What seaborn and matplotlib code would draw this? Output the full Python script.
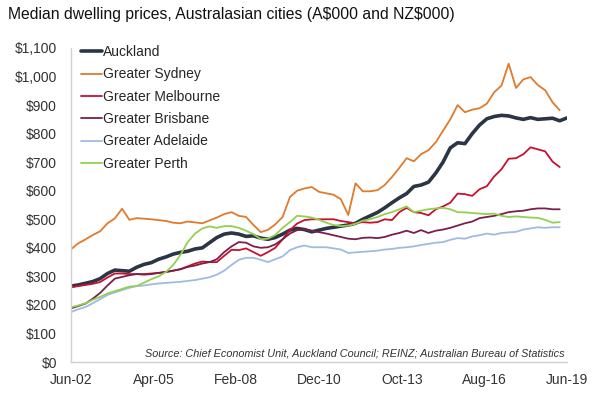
import numpy as np
import pandas as pd
import seaborn as sns
import matplotlib.pyplot as plt
import matplotlib.dates as mdates
from matplotlib.ticker import FuncFormatter

# quarterly, Jun-02 .. Jun-19 (Australian series end Mar-19)
quarters = pd.date_range('2002-06-30', periods=69, freq='QE')

auckland = [266, 270, 276, 282, 292, 310, 322, 320, 318, 332, 342, 348, 360, 368, 378, 384,
            388, 396, 400, 418, 436, 448, 452, 448, 440, 442, 434, 430, 436, 448, 462, 468,
            464, 456, 462, 468, 472, 476, 480, 486, 500, 512, 524, 540, 558, 575, 590, 615,
            620, 630, 662, 700, 750, 768, 765, 800, 830, 852, 860, 864, 862, 855, 850, 856,
            850, 852, 854, 845, 855]
sydney = [395, 416, 430, 445, 458, 486, 503, 537, 498, 504, 502, 500, 497, 494, 488, 486,
          492, 489, 486, 496, 506, 518, 525, 512, 508, 480, 455, 463, 482, 508, 578, 600,
          608, 613, 596, 591, 586, 570, 515, 626, 598, 598, 602, 620, 648, 680, 714, 703,
          728, 742, 770, 810, 850, 900, 875, 884, 889, 905, 945, 968, 1045, 960, 990, 998,
          970, 952, 910, 882, np.nan]
melbourne = [262, 266, 270, 274, 280, 296, 310, 310, 308, 308, 308, 310, 312, 316, 320, 325,
             335, 345, 352, 350, 350, 372, 393, 392, 398, 385, 372, 385, 400, 430, 462, 485,
             497, 500, 500, 500, 500, 494, 490, 486, 490, 488, 490, 500, 497, 525, 540, 525,
             522, 514, 535, 545, 558, 590, 588, 582, 605, 616, 650, 675, 712, 714, 728, 752,
             745, 738, 702, 683, np.nan]
brisbane = [188, 196, 205, 222, 242, 268, 292, 298, 304, 308, 306, 308, 312, 315, 320, 325,
            333, 338, 345, 350, 360, 385, 405, 420, 418, 405, 400, 402, 412, 430, 450, 462,
            465, 460, 455, 450, 444, 438, 432, 430, 435, 436, 434, 438, 446, 452, 460, 452,
            462, 452, 460, 464, 470, 478, 486, 492, 504, 508, 512, 518, 525, 528, 530, 535,
            538, 538, 535, 535, np.nan]
adelaide = [175, 185, 193, 206, 220, 235, 244, 252, 260, 266, 268, 272, 275, 277, 279, 281,
            284, 287, 292, 297, 306, 320, 340, 358, 365, 365, 358, 350, 360, 370, 392, 402,
            408, 402, 402, 402, 398, 394, 382, 384, 386, 388, 390, 394, 396, 400, 402, 405,
            410, 414, 418, 420, 428, 434, 432, 440, 444, 450, 446, 452, 454, 456, 464, 468,
            472, 470, 472, 472, np.nan]
perth = [192, 198, 206, 218, 228, 240, 248, 256, 264, 266, 278, 290, 300, 315, 340, 375,
         420, 450, 468, 475, 470, 476, 476, 470, 460, 448, 430, 432, 445, 470, 490, 512,
         510, 506, 498, 488, 480, 476, 478, 484, 495, 500, 508, 518, 525, 535, 545, 525,
         530, 535, 538, 540, 535, 525, 524, 522, 520, 518, 520, 512, 508, 510, 508, 506,
         505, 498, 488, 490, np.nan]

series = {
    'Auckland': auckland,
    'Greater Sydney': sydney,
    'Greater Melbourne': melbourne,
    'Greater Brisbane': brisbane,
    'Greater Adelaide': adelaide,
    'Greater Perth': perth,
}
colors = {
    'Auckland': '#2b3545',
    'Greater Sydney': '#e07a2c',
    'Greater Melbourne': '#c8102e',
    'Greater Brisbane': '#7a1f4a',
    'Greater Adelaide': '#9fbbe3',
    'Greater Perth': '#92d050',
}
tick_dates = pd.date_range('2002-06-30', periods=7, freq='34ME')

sns.set_style("white")
plt.rcParams['font.family'] = ['Liberation Sans', 'DejaVu Sans']

fig = plt.figure(figsize=(5.95, 3.94), dpi=100)
ax = fig.add_axes([0.1193, 0.0812, 0.8336, 0.797])

for name, vals in series.items():
    lw = 2.6 if name == 'Auckland' else 1.3
    sns.lineplot(x=quarters, y=vals, ax=ax, color=colors[name], lw=lw, label=name)

ax.set_xlim(quarters[0], quarters[-1])
ax.set_ylim(0, 1100)
ax.set_yticks(range(0, 1101, 100))
ax.yaxis.set_major_formatter(FuncFormatter(lambda v, p: '${:,.0f}'.format(v)))
ax.set_xticks(tick_dates)
ax.xaxis.set_major_formatter(mdates.DateFormatter('%b-%y'))
ax.set_xlabel('')
ax.set_ylabel('')

for s in ['top', 'right']:
    ax.spines[s].set_visible(False)
for s in ['left', 'bottom']:
    ax.spines[s].set_color('#d0d0d0')
    ax.spines[s].set_linewidth(1.0)
ax.tick_params(axis='both', labelsize=10, colors='#d0d0d0', labelcolor='#333333',
               length=4, width=1, direction='out')
ax.tick_params(axis='x', pad=4)
ax.tick_params(axis='y', pad=6)

ax.legend(loc='upper left', bbox_to_anchor=(0.0, 1.04), frameon=False, fontsize=10,
          handlelength=1.5, handletextpad=0.1, labelspacing=0.6, borderaxespad=0.3)

ax.text(0.995, 0.012, 'Source: Chief Economist Unit, Auckland Council; REINZ; Australian Bureau of Statistics',
        transform=ax.transAxes, ha='right', va='bottom', fontsize=7.85, style='italic', color='#333333')

fig.text(0.013, 0.962, r'Median dwelling prices, Australasian cities (A\$000 and NZ\$000)',
         fontsize=11.3, color='#111111', va='center', ha='left')

fig.savefig('out.png', dpi=100)
